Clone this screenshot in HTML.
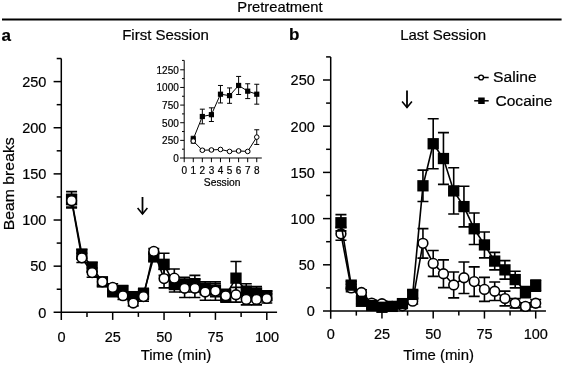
<!DOCTYPE html>
<html><head><meta charset="utf-8"><title>Pretreatment</title>
<style>
html,body{margin:0;padding:0;background:#fff;}
body{width:563px;height:365px;overflow:hidden;}
svg{display:block;will-change:transform;font-family:"Liberation Sans", sans-serif;fill:#000;}
text{stroke:#000;stroke-width:0.2px;}
</style></head><body>
<svg width="563" height="365" viewBox="0 0 563 365">
<rect width="563" height="365" fill="#fff"/>
<text x="237.3" y="11.6" font-size="14.3" textLength="85.3" lengthAdjust="spacingAndGlyphs">Pretreatment</text>
<path d="M2 19.5H561.6" stroke="#000" stroke-width="2.1"/>
<text x="1.5" y="40.5" font-size="17" font-weight="bold">a</text>
<text x="288.9" y="40.2" font-size="17" font-weight="bold">b</text>
<text x="122.2" y="39.8" font-size="15">First Session</text>
<text x="400.2" y="40.1" font-size="15">Last Session</text>
<text transform="translate(13.9 230.3) rotate(-90)" x="0" y="0" font-size="15.5" textLength="93" lengthAdjust="spacingAndGlyphs">Beam breaks</text>
<path d="M61.3 58.53V320" stroke="#000" stroke-width="1.5"/>
<path d="M53.6 312.3H277.07" stroke="#000" stroke-width="1.5"/>
<path d="M56.7 289.23H61.3" stroke="#000" stroke-width="1.5"/>
<path d="M53.6 266.16H61.3" stroke="#000" stroke-width="1.5"/>
<path d="M56.7 243.09H61.3" stroke="#000" stroke-width="1.5"/>
<path d="M53.6 220.02H61.3" stroke="#000" stroke-width="1.5"/>
<path d="M56.7 196.95H61.3" stroke="#000" stroke-width="1.5"/>
<path d="M53.6 173.88H61.3" stroke="#000" stroke-width="1.5"/>
<path d="M56.7 150.81H61.3" stroke="#000" stroke-width="1.5"/>
<path d="M53.6 127.74H61.3" stroke="#000" stroke-width="1.5"/>
<path d="M56.7 104.67H61.3" stroke="#000" stroke-width="1.5"/>
<path d="M53.6 81.6H61.3" stroke="#000" stroke-width="1.5"/>
<path d="M56.7 58.53H61.3" stroke="#000" stroke-width="1.5"/>
<path d="M86.99 312.3V316.9" stroke="#000" stroke-width="1.5"/>
<path d="M112.68 312.3V319.9" stroke="#000" stroke-width="1.5"/>
<path d="M138.36 312.3V316.9" stroke="#000" stroke-width="1.5"/>
<path d="M164.05 312.3V319.9" stroke="#000" stroke-width="1.5"/>
<path d="M189.74 312.3V316.9" stroke="#000" stroke-width="1.5"/>
<path d="M215.43 312.3V319.9" stroke="#000" stroke-width="1.5"/>
<path d="M241.11 312.3V316.9" stroke="#000" stroke-width="1.5"/>
<path d="M266.8 312.3V319.9" stroke="#000" stroke-width="1.5"/>
<path d="M330.7 56.9V318.7" stroke="#000" stroke-width="1.5"/>
<path d="M323 311H545.95" stroke="#000" stroke-width="1.5"/>
<path d="M326.1 287.9H330.7" stroke="#000" stroke-width="1.5"/>
<path d="M323 264.8H330.7" stroke="#000" stroke-width="1.5"/>
<path d="M326.1 241.7H330.7" stroke="#000" stroke-width="1.5"/>
<path d="M323 218.6H330.7" stroke="#000" stroke-width="1.5"/>
<path d="M326.1 195.5H330.7" stroke="#000" stroke-width="1.5"/>
<path d="M323 172.4H330.7" stroke="#000" stroke-width="1.5"/>
<path d="M326.1 149.3H330.7" stroke="#000" stroke-width="1.5"/>
<path d="M323 126.2H330.7" stroke="#000" stroke-width="1.5"/>
<path d="M326.1 103.1H330.7" stroke="#000" stroke-width="1.5"/>
<path d="M323 80H330.7" stroke="#000" stroke-width="1.5"/>
<path d="M326.1 56.9H330.7" stroke="#000" stroke-width="1.5"/>
<path d="M356.32 311V315.6" stroke="#000" stroke-width="1.5"/>
<path d="M381.95 311V318.6" stroke="#000" stroke-width="1.5"/>
<path d="M407.57 311V315.6" stroke="#000" stroke-width="1.5"/>
<path d="M433.2 311V318.6" stroke="#000" stroke-width="1.5"/>
<path d="M458.82 311V315.6" stroke="#000" stroke-width="1.5"/>
<path d="M484.45 311V318.6" stroke="#000" stroke-width="1.5"/>
<path d="M510.07 311V315.6" stroke="#000" stroke-width="1.5"/>
<path d="M535.7 311V318.6" stroke="#000" stroke-width="1.5"/>
<text x="46.4" y="317.6" font-size="14.5" text-anchor="end">0</text>
<text x="314.8" y="316.3" font-size="14.5" text-anchor="end">0</text>
<text x="46.4" y="271.46" font-size="14.5" text-anchor="end">50</text>
<text x="314.8" y="270.1" font-size="14.5" text-anchor="end">50</text>
<text x="46.4" y="225.32" font-size="14.5" text-anchor="end">100</text>
<text x="314.8" y="223.9" font-size="14.5" text-anchor="end">100</text>
<text x="46.4" y="179.18" font-size="14.5" text-anchor="end">150</text>
<text x="314.8" y="177.7" font-size="14.5" text-anchor="end">150</text>
<text x="46.4" y="133.04" font-size="14.5" text-anchor="end">200</text>
<text x="314.8" y="131.5" font-size="14.5" text-anchor="end">200</text>
<text x="46.4" y="86.9" font-size="14.5" text-anchor="end">250</text>
<text x="314.8" y="85.3" font-size="14.5" text-anchor="end">250</text>
<text x="61.5" y="341.7" font-size="14.5" text-anchor="middle">0</text>
<text x="330.8" y="339.0" font-size="14.5" text-anchor="middle">0</text>
<text x="112.88" y="341.7" font-size="14.5" text-anchor="middle">25</text>
<text x="382.05" y="339.0" font-size="14.5" text-anchor="middle">25</text>
<text x="164.25" y="341.7" font-size="14.5" text-anchor="middle">50</text>
<text x="433.3" y="339.0" font-size="14.5" text-anchor="middle">50</text>
<text x="215.62" y="341.7" font-size="14.5" text-anchor="middle">75</text>
<text x="484.55" y="339.0" font-size="14.5" text-anchor="middle">75</text>
<text x="267" y="341.7" font-size="14.5" text-anchor="middle">100</text>
<text x="535.8" y="339.0" font-size="14.5" text-anchor="middle">100</text>
<text x="140.7" y="360.3" font-size="15" textLength="70.6" lengthAdjust="spacingAndGlyphs">Time (min)</text>
<text x="403.3" y="360.3" font-size="15" textLength="70.6" lengthAdjust="spacingAndGlyphs">Time (min)</text>
<path d="M71.58 191.6V207.84M66.08 191.6H77.08M66.08 207.84H77.08" stroke="#000" stroke-width="1.6" fill="none"/>
<path d="M81.85 249.55V258.78M76.35 249.55H87.35M76.35 258.78H87.35" stroke="#000" stroke-width="1.6" fill="none"/>
<path d="M92.12 262.47V271.7M86.62 262.47H97.62M86.62 271.7H97.62" stroke="#000" stroke-width="1.6" fill="none"/>
<path d="M102.4 277.23V286.46M96.9 277.23H107.9M96.9 286.46H107.9" stroke="#000" stroke-width="1.6" fill="none"/>
<path d="M112.68 285.54V296.61M107.18 285.54H118.18M107.18 296.61H118.18" stroke="#000" stroke-width="1.6" fill="none"/>
<path d="M122.95 285.54V296.61M117.45 285.54H128.45M117.45 296.61H128.45" stroke="#000" stroke-width="1.6" fill="none"/>
<path d="M133.23 292V301.23M127.73 292H138.73M127.73 301.23H138.73" stroke="#000" stroke-width="1.6" fill="none"/>
<path d="M143.5 288.31V299.38M138 288.31H149M138 299.38H149" stroke="#000" stroke-width="1.6" fill="none"/>
<path d="M153.78 253.24V260.62M148.28 253.24H159.28M148.28 260.62H159.28" stroke="#000" stroke-width="1.6" fill="none"/>
<path d="M164.05 253.24V275.39M158.55 253.24H169.55M158.55 275.39H169.55" stroke="#000" stroke-width="1.6" fill="none"/>
<path d="M174.32 277.23V292M168.82 277.23H179.82M168.82 292H179.82" stroke="#000" stroke-width="1.6" fill="none"/>
<path d="M184.6 277.23V292M179.1 277.23H190.1M179.1 292H190.1" stroke="#000" stroke-width="1.6" fill="none"/>
<path d="M194.88 275.39V292M189.38 275.39H200.38M189.38 292H200.38" stroke="#000" stroke-width="1.6" fill="none"/>
<path d="M205.15 281.85V294.77M199.65 281.85H210.65M199.65 294.77H210.65" stroke="#000" stroke-width="1.6" fill="none"/>
<path d="M215.43 283.69V296.61M209.93 283.69H220.93M209.93 296.61H220.93" stroke="#000" stroke-width="1.6" fill="none"/>
<path d="M225.7 290.15V301.23M220.2 290.15H231.2M220.2 301.23H231.2" stroke="#000" stroke-width="1.6" fill="none"/>
<path d="M235.98 261.55V294.77M230.48 261.55H241.48M230.48 294.77H241.48" stroke="#000" stroke-width="1.6" fill="none"/>
<path d="M246.25 283.69V298.46M240.75 283.69H251.75M240.75 298.46H251.75" stroke="#000" stroke-width="1.6" fill="none"/>
<path d="M256.53 286.46V299.38M251.03 286.46H262.03M251.03 299.38H262.03" stroke="#000" stroke-width="1.6" fill="none"/>
<path d="M266.8 291.08V300.3M261.3 291.08H272.3M261.3 300.3H272.3" stroke="#000" stroke-width="1.6" fill="none"/>
<polyline points="71.58,199.72 81.85,254.16 92.12,267.08 102.4,281.85 112.68,291.08 122.95,291.08 133.23,296.61 143.5,293.84 153.78,256.93 164.05,264.31 174.32,284.62 184.6,284.62 194.88,283.69 205.15,288.31 215.43,290.15 225.7,295.69 235.98,278.16 246.25,291.08 256.53,292.92 266.8,295.69" fill="none" stroke="#000" stroke-width="1.6"/>
<rect x="65.92" y="194.07" width="11.3" height="11.3" fill="#000"/>
<rect x="76.2" y="248.51" width="11.3" height="11.3" fill="#000"/>
<rect x="86.47" y="261.43" width="11.3" height="11.3" fill="#000"/>
<rect x="96.75" y="276.2" width="11.3" height="11.3" fill="#000"/>
<rect x="107.03" y="285.43" width="11.3" height="11.3" fill="#000"/>
<rect x="117.3" y="285.43" width="11.3" height="11.3" fill="#000"/>
<rect x="127.58" y="290.96" width="11.3" height="11.3" fill="#000"/>
<rect x="137.85" y="288.19" width="11.3" height="11.3" fill="#000"/>
<rect x="148.12" y="251.28" width="11.3" height="11.3" fill="#000"/>
<rect x="158.4" y="258.66" width="11.3" height="11.3" fill="#000"/>
<rect x="168.67" y="278.97" width="11.3" height="11.3" fill="#000"/>
<rect x="178.95" y="278.97" width="11.3" height="11.3" fill="#000"/>
<rect x="189.22" y="278.04" width="11.3" height="11.3" fill="#000"/>
<rect x="199.5" y="282.66" width="11.3" height="11.3" fill="#000"/>
<rect x="209.78" y="284.5" width="11.3" height="11.3" fill="#000"/>
<rect x="220.05" y="290.04" width="11.3" height="11.3" fill="#000"/>
<rect x="230.33" y="272.51" width="11.3" height="11.3" fill="#000"/>
<rect x="240.6" y="285.43" width="11.3" height="11.3" fill="#000"/>
<rect x="250.88" y="287.27" width="11.3" height="11.3" fill="#000"/>
<rect x="261.15" y="290.04" width="11.3" height="11.3" fill="#000"/>
<path d="M71.58 194.18V207.1M66.08 194.18H77.08M66.08 207.1H77.08" stroke="#000" stroke-width="1.6" fill="none"/>
<path d="M81.85 253.24V262.47M76.35 253.24H87.35M76.35 262.47H87.35" stroke="#000" stroke-width="1.6" fill="none"/>
<path d="M92.12 268.01V277.23M86.62 268.01H97.62M86.62 277.23H97.62" stroke="#000" stroke-width="1.6" fill="none"/>
<path d="M102.4 278.16V285.54M96.9 278.16H107.9M96.9 285.54H107.9" stroke="#000" stroke-width="1.6" fill="none"/>
<path d="M112.68 283.69V291.08M107.18 283.69H118.18M107.18 291.08H118.18" stroke="#000" stroke-width="1.6" fill="none"/>
<path d="M122.95 292V299.38M117.45 292H128.45M117.45 299.38H128.45" stroke="#000" stroke-width="1.6" fill="none"/>
<path d="M133.23 300.3V305.84M127.73 300.3H138.73M127.73 305.84H138.73" stroke="#000" stroke-width="1.6" fill="none"/>
<path d="M143.5 292V301.23M138 292H149M138 301.23H149" stroke="#000" stroke-width="1.6" fill="none"/>
<path d="M153.78 248.63V254.16M148.28 248.63H159.28M148.28 254.16H159.28" stroke="#000" stroke-width="1.6" fill="none"/>
<path d="M164.05 269.39V287.85M158.55 269.39H169.55M158.55 287.85H169.55" stroke="#000" stroke-width="1.6" fill="none"/>
<path d="M174.32 268.93V287.38M168.82 268.93H179.82M168.82 287.38H179.82" stroke="#000" stroke-width="1.6" fill="none"/>
<path d="M184.6 279.08V297.54M179.1 279.08H190.1M179.1 297.54H190.1" stroke="#000" stroke-width="1.6" fill="none"/>
<path d="M194.88 279.08V297.54M189.38 279.08H200.38M189.38 297.54H200.38" stroke="#000" stroke-width="1.6" fill="none"/>
<path d="M205.15 283.69V300.3M199.65 283.69H210.65M199.65 300.3H210.65" stroke="#000" stroke-width="1.6" fill="none"/>
<path d="M215.43 281.85V300.3M209.93 281.85H220.93M209.93 300.3H220.93" stroke="#000" stroke-width="1.6" fill="none"/>
<path d="M225.7 289.23V302.15M220.2 289.23H231.2M220.2 302.15H231.2" stroke="#000" stroke-width="1.6" fill="none"/>
<path d="M235.98 287.38V302.15M230.48 287.38H241.48M230.48 302.15H241.48" stroke="#000" stroke-width="1.6" fill="none"/>
<path d="M246.25 293.84V304.92M240.75 293.84H251.75M240.75 304.92H251.75" stroke="#000" stroke-width="1.6" fill="none"/>
<path d="M256.53 293.84V304.92M251.03 293.84H262.03M251.03 304.92H262.03" stroke="#000" stroke-width="1.6" fill="none"/>
<path d="M266.8 293.84V303.07M261.3 293.84H272.3M261.3 303.07H272.3" stroke="#000" stroke-width="1.6" fill="none"/>
<polyline points="71.58,200.64 81.85,257.85 92.12,272.62 102.4,281.85 112.68,287.38 122.95,295.69 133.23,303.07 143.5,296.61 153.78,251.4 164.05,278.62 174.32,278.16 184.6,288.31 194.88,288.31 205.15,292 215.43,291.08 225.7,295.69 235.98,294.77 246.25,299.38 256.53,299.38 266.8,298.46" fill="none" stroke="#000" stroke-width="1.6"/>
<circle cx="71.58" cy="200.64" r="4.85" fill="#fff" stroke="#000" stroke-width="1.6"/>
<circle cx="81.85" cy="257.85" r="4.85" fill="#fff" stroke="#000" stroke-width="1.6"/>
<circle cx="92.12" cy="272.62" r="4.85" fill="#fff" stroke="#000" stroke-width="1.6"/>
<circle cx="102.4" cy="281.85" r="4.85" fill="#fff" stroke="#000" stroke-width="1.6"/>
<circle cx="112.68" cy="287.38" r="4.85" fill="#fff" stroke="#000" stroke-width="1.6"/>
<circle cx="122.95" cy="295.69" r="4.85" fill="#fff" stroke="#000" stroke-width="1.6"/>
<circle cx="133.23" cy="303.07" r="4.85" fill="#fff" stroke="#000" stroke-width="1.6"/>
<circle cx="143.5" cy="296.61" r="4.85" fill="#fff" stroke="#000" stroke-width="1.6"/>
<circle cx="153.78" cy="251.4" r="4.85" fill="#fff" stroke="#000" stroke-width="1.6"/>
<circle cx="164.05" cy="278.62" r="4.85" fill="#fff" stroke="#000" stroke-width="1.6"/>
<circle cx="174.32" cy="278.16" r="4.85" fill="#fff" stroke="#000" stroke-width="1.6"/>
<circle cx="184.6" cy="288.31" r="4.85" fill="#fff" stroke="#000" stroke-width="1.6"/>
<circle cx="194.88" cy="288.31" r="4.85" fill="#fff" stroke="#000" stroke-width="1.6"/>
<circle cx="205.15" cy="292" r="4.85" fill="#fff" stroke="#000" stroke-width="1.6"/>
<circle cx="215.43" cy="291.08" r="4.85" fill="#fff" stroke="#000" stroke-width="1.6"/>
<circle cx="225.7" cy="295.69" r="4.85" fill="#fff" stroke="#000" stroke-width="1.6"/>
<circle cx="235.98" cy="294.77" r="4.85" fill="#fff" stroke="#000" stroke-width="1.6"/>
<circle cx="246.25" cy="299.38" r="4.85" fill="#fff" stroke="#000" stroke-width="1.6"/>
<circle cx="256.53" cy="299.38" r="4.85" fill="#fff" stroke="#000" stroke-width="1.6"/>
<circle cx="266.8" cy="298.46" r="4.85" fill="#fff" stroke="#000" stroke-width="1.6"/>
<path d="M340.95 227.38V240.31M335.45 227.38H346.45M335.45 240.31H346.45" stroke="#000" stroke-width="1.6" fill="none"/>
<path d="M351.2 284.2V291.6M345.7 284.2H356.7M345.7 291.6H356.7" stroke="#000" stroke-width="1.6" fill="none"/>
<path d="M361.45 289.75V295.29M355.95 289.75H366.95M355.95 295.29H366.95" stroke="#000" stroke-width="1.6" fill="none"/>
<path d="M371.7 300.28V305.83M366.2 300.28H377.2M366.2 305.83H377.2" stroke="#000" stroke-width="1.6" fill="none"/>
<path d="M381.95 300.93V306.47M376.45 300.93H387.45M376.45 306.47H387.45" stroke="#000" stroke-width="1.6" fill="none"/>
<path d="M392.2 304.53V308.23M386.7 304.53H397.7M386.7 308.23H397.7" stroke="#000" stroke-width="1.6" fill="none"/>
<path d="M402.45 303.98V307.67M396.95 303.98H407.95M396.95 307.67H407.95" stroke="#000" stroke-width="1.6" fill="none"/>
<path d="M412.7 298.43V303.98M407.2 298.43H418.2M407.2 303.98H418.2" stroke="#000" stroke-width="1.6" fill="none"/>
<path d="M422.95 228.58V258.15M417.45 228.58H428.45M417.45 258.15H428.45" stroke="#000" stroke-width="1.6" fill="none"/>
<path d="M433.2 250.48V276.35M427.7 250.48H438.7M427.7 276.35H438.7" stroke="#000" stroke-width="1.6" fill="none"/>
<path d="M443.45 259.9V287.62M437.95 259.9H448.95M437.95 287.62H448.95" stroke="#000" stroke-width="1.6" fill="none"/>
<path d="M453.7 272.01V297.88M448.2 272.01H459.2M448.2 297.88H459.2" stroke="#000" stroke-width="1.6" fill="none"/>
<path d="M463.95 262.03V293.44M458.45 262.03H469.45M458.45 293.44H469.45" stroke="#000" stroke-width="1.6" fill="none"/>
<path d="M474.2 266.83V296.4M468.7 266.83H479.7M468.7 296.4H479.7" stroke="#000" stroke-width="1.6" fill="none"/>
<path d="M484.45 277.37V301.39M478.95 277.37H489.95M478.95 301.39H489.95" stroke="#000" stroke-width="1.6" fill="none"/>
<path d="M494.7 281.99V300.47M489.2 281.99H500.2M489.2 300.47H500.2" stroke="#000" stroke-width="1.6" fill="none"/>
<path d="M504.95 291.13V305.92M499.45 291.13H510.45M499.45 305.92H510.45" stroke="#000" stroke-width="1.6" fill="none"/>
<path d="M515.2 298.62V307.86M509.7 298.62H520.7M509.7 307.86H520.7" stroke="#000" stroke-width="1.6" fill="none"/>
<path d="M525.45 302.68V310.08M519.95 302.68H530.95M519.95 310.08H530.95" stroke="#000" stroke-width="1.6" fill="none"/>
<path d="M535.7 299.54V306.93M530.2 299.54H541.2M530.2 306.93H541.2" stroke="#000" stroke-width="1.6" fill="none"/>
<polyline points="340.95,233.85 351.2,287.9 361.45,292.52 371.7,303.05 381.95,303.7 392.2,306.38 402.45,305.83 412.7,301.21 422.95,243.36 433.2,263.41 443.45,273.76 453.7,284.94 463.95,277.74 474.2,281.62 484.45,289.38 494.7,291.23 504.95,298.53 515.2,303.24 525.45,306.38 535.7,303.24" fill="none" stroke="#000" stroke-width="1.6"/>
<circle cx="340.95" cy="233.85" r="4.85" fill="#fff" stroke="#000" stroke-width="1.6"/>
<circle cx="351.2" cy="287.9" r="4.85" fill="#fff" stroke="#000" stroke-width="1.6"/>
<circle cx="361.45" cy="292.52" r="4.85" fill="#fff" stroke="#000" stroke-width="1.6"/>
<circle cx="371.7" cy="303.05" r="4.85" fill="#fff" stroke="#000" stroke-width="1.6"/>
<circle cx="381.95" cy="303.7" r="4.85" fill="#fff" stroke="#000" stroke-width="1.6"/>
<circle cx="392.2" cy="306.38" r="4.85" fill="#fff" stroke="#000" stroke-width="1.6"/>
<circle cx="402.45" cy="305.83" r="4.85" fill="#fff" stroke="#000" stroke-width="1.6"/>
<circle cx="412.7" cy="301.21" r="4.85" fill="#fff" stroke="#000" stroke-width="1.6"/>
<circle cx="422.95" cy="243.36" r="4.85" fill="#fff" stroke="#000" stroke-width="1.6"/>
<circle cx="433.2" cy="263.41" r="4.85" fill="#fff" stroke="#000" stroke-width="1.6"/>
<circle cx="443.45" cy="273.76" r="4.85" fill="#fff" stroke="#000" stroke-width="1.6"/>
<circle cx="453.7" cy="284.94" r="4.85" fill="#fff" stroke="#000" stroke-width="1.6"/>
<circle cx="463.95" cy="277.74" r="4.85" fill="#fff" stroke="#000" stroke-width="1.6"/>
<circle cx="474.2" cy="281.62" r="4.85" fill="#fff" stroke="#000" stroke-width="1.6"/>
<circle cx="484.45" cy="289.38" r="4.85" fill="#fff" stroke="#000" stroke-width="1.6"/>
<circle cx="494.7" cy="291.23" r="4.85" fill="#fff" stroke="#000" stroke-width="1.6"/>
<circle cx="504.95" cy="298.53" r="4.85" fill="#fff" stroke="#000" stroke-width="1.6"/>
<circle cx="515.2" cy="303.24" r="4.85" fill="#fff" stroke="#000" stroke-width="1.6"/>
<circle cx="525.45" cy="306.38" r="4.85" fill="#fff" stroke="#000" stroke-width="1.6"/>
<circle cx="535.7" cy="303.24" r="4.85" fill="#fff" stroke="#000" stroke-width="1.6"/>
<path d="M340.95 214.63V230.89M335.45 214.63H346.45M335.45 230.89H346.45" stroke="#000" stroke-width="1.6" fill="none"/>
<path d="M351.2 281.43V288.82M345.7 281.43H356.7M345.7 288.82H356.7" stroke="#000" stroke-width="1.6" fill="none"/>
<path d="M361.45 298.53V304.07M355.95 298.53H366.95M355.95 304.07H366.95" stroke="#000" stroke-width="1.6" fill="none"/>
<path d="M371.7 302.68V308.23M366.2 302.68H377.2M366.2 308.23H377.2" stroke="#000" stroke-width="1.6" fill="none"/>
<path d="M381.95 304.53V310.08M376.45 304.53H387.45M376.45 310.08H387.45" stroke="#000" stroke-width="1.6" fill="none"/>
<path d="M392.2 303.61V309.15M386.7 303.61H397.7M386.7 309.15H397.7" stroke="#000" stroke-width="1.6" fill="none"/>
<path d="M402.45 300.84V306.38M396.95 300.84H407.95M396.95 306.38H407.95" stroke="#000" stroke-width="1.6" fill="none"/>
<path d="M412.7 290.67V298.06M407.2 290.67H418.2M407.2 298.06H418.2" stroke="#000" stroke-width="1.6" fill="none"/>
<path d="M422.95 170.09V201.51M417.45 170.09H428.45M417.45 201.51H428.45" stroke="#000" stroke-width="1.6" fill="none"/>
<path d="M433.2 118.81V168.7M427.7 118.81H438.7M427.7 168.7H438.7" stroke="#000" stroke-width="1.6" fill="none"/>
<path d="M443.45 132.67V184.41M437.95 132.67H448.95M437.95 184.41H448.95" stroke="#000" stroke-width="1.6" fill="none"/>
<path d="M453.7 167.78V213.98M448.2 167.78H459.2M448.2 213.98H459.2" stroke="#000" stroke-width="1.6" fill="none"/>
<path d="M463.95 186.26V226.92M458.45 186.26H469.45M458.45 226.92H469.45" stroke="#000" stroke-width="1.6" fill="none"/>
<path d="M474.2 213.06V244.47M468.7 213.06H479.7M468.7 244.47H479.7" stroke="#000" stroke-width="1.6" fill="none"/>
<path d="M484.45 232V257.87M478.95 232H489.95M478.95 257.87H489.95" stroke="#000" stroke-width="1.6" fill="none"/>
<path d="M494.7 252.33V269.88M489.2 252.33H500.2M489.2 269.88H500.2" stroke="#000" stroke-width="1.6" fill="none"/>
<path d="M504.95 260.64V279.12M499.45 260.64H510.45M499.45 279.12H510.45" stroke="#000" stroke-width="1.6" fill="none"/>
<path d="M515.2 271.27V287.9M509.7 271.27H520.7M509.7 287.9H520.7" stroke="#000" stroke-width="1.6" fill="none"/>
<path d="M525.45 286.51V297.6M519.95 286.51H530.95M519.95 297.6H530.95" stroke="#000" stroke-width="1.6" fill="none"/>
<path d="M535.7 280.05V291.13M530.2 280.05H541.2M530.2 291.13H541.2" stroke="#000" stroke-width="1.6" fill="none"/>
<polyline points="340.95,222.76 351.2,285.13 361.45,301.3 371.7,305.46 381.95,307.3 392.2,306.38 402.45,303.61 412.7,294.37 422.95,185.8 433.2,143.76 443.45,158.54 453.7,190.88 463.95,206.59 474.2,228.76 484.45,244.93 494.7,261.1 504.95,269.88 515.2,279.58 525.45,292.06 535.7,285.59" fill="none" stroke="#000" stroke-width="1.6"/>
<rect x="335.3" y="217.11" width="11.3" height="11.3" fill="#000"/>
<rect x="345.55" y="279.48" width="11.3" height="11.3" fill="#000"/>
<rect x="355.8" y="295.65" width="11.3" height="11.3" fill="#000"/>
<rect x="366.05" y="299.81" width="11.3" height="11.3" fill="#000"/>
<rect x="376.3" y="301.65" width="11.3" height="11.3" fill="#000"/>
<rect x="386.55" y="300.73" width="11.3" height="11.3" fill="#000"/>
<rect x="396.8" y="297.96" width="11.3" height="11.3" fill="#000"/>
<rect x="407.05" y="288.72" width="11.3" height="11.3" fill="#000"/>
<rect x="417.3" y="180.15" width="11.3" height="11.3" fill="#000"/>
<rect x="427.55" y="138.11" width="11.3" height="11.3" fill="#000"/>
<rect x="437.8" y="152.89" width="11.3" height="11.3" fill="#000"/>
<rect x="448.05" y="185.23" width="11.3" height="11.3" fill="#000"/>
<rect x="458.3" y="200.94" width="11.3" height="11.3" fill="#000"/>
<rect x="468.55" y="223.11" width="11.3" height="11.3" fill="#000"/>
<rect x="478.8" y="239.28" width="11.3" height="11.3" fill="#000"/>
<rect x="489.05" y="255.45" width="11.3" height="11.3" fill="#000"/>
<rect x="499.3" y="264.23" width="11.3" height="11.3" fill="#000"/>
<rect x="509.55" y="273.93" width="11.3" height="11.3" fill="#000"/>
<rect x="519.8" y="286.41" width="11.3" height="11.3" fill="#000"/>
<rect x="530.05" y="279.94" width="11.3" height="11.3" fill="#000"/>
<path d="M142.5 197V214" stroke="#000" stroke-width="1.8" fill="none"/><path d="M137.6 208.1L142.5 214L147.4 208.1" stroke="#000" stroke-width="1.6" fill="none" stroke-linejoin="miter"/>
<path d="M407 90.5V107.5" stroke="#000" stroke-width="1.8" fill="none"/><path d="M402.1 101.6L407 107.5L411.9 101.6" stroke="#000" stroke-width="1.6" fill="none" stroke-linejoin="miter"/>
<path d="M474.2 77.5H488.7" stroke="#000" stroke-width="1.5"/><circle cx="481.1" cy="77.5" r="2.4" fill="#fff" stroke="#000" stroke-width="1.4"/>
<text x="493.1" y="82.4" font-size="15.4" textLength="43.6" lengthAdjust="spacingAndGlyphs">Saline</text>
<path d="M474.2 100.8H488.7" stroke="#000" stroke-width="1.5"/><rect x="478.2" y="97.5" width="6.5" height="6.5" fill="#000"/>
<text x="495.5" y="105.6" font-size="15.4" textLength="57" lengthAdjust="spacingAndGlyphs">Cocaine</text>
<path d="M184.2 60.4V162.2" stroke="#000" stroke-width="1"/>
<path d="M180 158H261.8" stroke="#000" stroke-width="1"/>
<path d="M182 60.4H184.2" stroke="#000" stroke-width="1"/>
<path d="M182 149.18H184.2" stroke="#000" stroke-width="1"/>
<path d="M180.2 140.36H184.2" stroke="#000" stroke-width="1"/>
<path d="M182 131.54H184.2" stroke="#000" stroke-width="1"/>
<path d="M180.2 122.72H184.2" stroke="#000" stroke-width="1"/>
<path d="M182 113.9H184.2" stroke="#000" stroke-width="1"/>
<path d="M180.2 105.08H184.2" stroke="#000" stroke-width="1"/>
<path d="M182 96.26H184.2" stroke="#000" stroke-width="1"/>
<path d="M180.2 87.44H184.2" stroke="#000" stroke-width="1"/>
<path d="M182 78.62H184.2" stroke="#000" stroke-width="1"/>
<path d="M180.2 69.8H184.2" stroke="#000" stroke-width="1"/>
<path d="M193.27 158V162.2" stroke="#000" stroke-width="1"/>
<path d="M202.34 158V162.2" stroke="#000" stroke-width="1"/>
<path d="M211.41 158V162.2" stroke="#000" stroke-width="1"/>
<path d="M220.48 158V162.2" stroke="#000" stroke-width="1"/>
<path d="M229.55 158V162.2" stroke="#000" stroke-width="1"/>
<path d="M238.62 158V162.2" stroke="#000" stroke-width="1"/>
<path d="M247.69 158V162.2" stroke="#000" stroke-width="1"/>
<path d="M256.76 158V162.2" stroke="#000" stroke-width="1"/>
<text x="178.8" y="162" font-size="10" text-anchor="end">0</text>
<text x="178.8" y="144.36" font-size="10" text-anchor="end">250</text>
<text x="178.8" y="126.72" font-size="10" text-anchor="end">500</text>
<text x="178.8" y="109.08" font-size="10" text-anchor="end">750</text>
<text x="178.8" y="91.44" font-size="10" text-anchor="end">1000</text>
<text x="178.8" y="73.8" font-size="10" text-anchor="end">1250</text>
<text x="184.2" y="173.5" font-size="10" text-anchor="middle">0</text>
<text x="193.27" y="173.5" font-size="10" text-anchor="middle">1</text>
<text x="202.34" y="173.5" font-size="10" text-anchor="middle">2</text>
<text x="211.41" y="173.5" font-size="10" text-anchor="middle">3</text>
<text x="220.48" y="173.5" font-size="10" text-anchor="middle">4</text>
<text x="229.55" y="173.5" font-size="10" text-anchor="middle">5</text>
<text x="238.62" y="173.5" font-size="10" text-anchor="middle">6</text>
<text x="247.69" y="173.5" font-size="10" text-anchor="middle">7</text>
<text x="256.76" y="173.5" font-size="10" text-anchor="middle">8</text>
<text x="203.8" y="185.5" font-size="10" textLength="36.6" lengthAdjust="spacingAndGlyphs">Session</text>
<path d="M193.27 138.95V143.18M190.77 138.95H195.77M190.77 143.18H195.77" stroke="#000" stroke-width="1" fill="none"/>
<path d="M202.34 149.18V151.3M199.84 149.18H204.84M199.84 151.3H204.84" stroke="#000" stroke-width="1" fill="none"/>
<path d="M211.41 148.9V151.01M208.91 148.9H213.91M208.91 151.01H213.91" stroke="#000" stroke-width="1" fill="none"/>
<path d="M220.48 148.4V150.52M217.98 148.4H222.98M217.98 150.52H222.98" stroke="#000" stroke-width="1" fill="none"/>
<path d="M229.55 150.59V152.28M227.05 150.59H232.05M227.05 152.28H232.05" stroke="#000" stroke-width="1" fill="none"/>
<path d="M238.62 150.1V151.79M236.12 150.1H241.12M236.12 151.79H241.12" stroke="#000" stroke-width="1" fill="none"/>
<path d="M247.69 150.59V152.28M245.19 150.59H250.19M245.19 152.28H250.19" stroke="#000" stroke-width="1" fill="none"/>
<path d="M256.76 129.78V144.45M254.26 129.78H259.26M254.26 144.45H259.26" stroke="#000" stroke-width="1" fill="none"/>
<path d="M193.27 136.27V141.91M190.77 136.27H195.77M190.77 141.91H195.77" stroke="#000" stroke-width="1" fill="none"/>
<path d="M202.34 109.17V123.85M199.84 109.17H204.84M199.84 123.85H204.84" stroke="#000" stroke-width="1" fill="none"/>
<path d="M211.41 107.83V121.52M208.91 107.83H213.91M208.91 121.52H213.91" stroke="#000" stroke-width="1" fill="none"/>
<path d="M220.48 85.46V102.96M217.98 85.46H222.98M217.98 102.96H222.98" stroke="#000" stroke-width="1" fill="none"/>
<path d="M229.55 87.93V103.32M227.05 87.93H232.05M227.05 103.32H232.05" stroke="#000" stroke-width="1" fill="none"/>
<path d="M238.62 76.43V94.5M236.12 76.43H241.12M236.12 94.5H241.12" stroke="#000" stroke-width="1" fill="none"/>
<path d="M247.69 83.77V98.59M245.19 83.77H250.19M245.19 98.59H250.19" stroke="#000" stroke-width="1" fill="none"/>
<path d="M256.76 84.26V104.16M254.26 84.26H259.26M254.26 104.16H259.26" stroke="#000" stroke-width="1" fill="none"/>
<polyline points="193.27,141.07 202.34,150.24 211.41,149.96 220.48,149.46 229.55,151.44 238.62,150.94 247.69,151.44 256.76,137.11" fill="none" stroke="#000" stroke-width="1"/>
<polyline points="193.27,139.09 202.34,116.51 211.41,114.68 220.48,94.21 229.55,95.62 238.62,85.46 247.69,91.18 256.76,94.21" fill="none" stroke="#000" stroke-width="1"/>
<rect x="190.67" y="136.49" width="5.2" height="5.2" fill="#000"/>
<rect x="199.74" y="113.91" width="5.2" height="5.2" fill="#000"/>
<rect x="208.81" y="112.08" width="5.2" height="5.2" fill="#000"/>
<rect x="217.88" y="91.61" width="5.2" height="5.2" fill="#000"/>
<rect x="226.95" y="93.02" width="5.2" height="5.2" fill="#000"/>
<rect x="236.02" y="82.86" width="5.2" height="5.2" fill="#000"/>
<rect x="245.09" y="88.58" width="5.2" height="5.2" fill="#000"/>
<rect x="254.16" y="91.61" width="5.2" height="5.2" fill="#000"/>
<circle cx="193.27" cy="141.07" r="2.3" fill="#fff" stroke="#000" stroke-width="1"/>
<circle cx="202.34" cy="150.24" r="2.3" fill="#fff" stroke="#000" stroke-width="1"/>
<circle cx="211.41" cy="149.96" r="2.3" fill="#fff" stroke="#000" stroke-width="1"/>
<circle cx="220.48" cy="149.46" r="2.3" fill="#fff" stroke="#000" stroke-width="1"/>
<circle cx="229.55" cy="151.44" r="2.3" fill="#fff" stroke="#000" stroke-width="1"/>
<circle cx="238.62" cy="150.94" r="2.3" fill="#fff" stroke="#000" stroke-width="1"/>
<circle cx="247.69" cy="151.44" r="2.3" fill="#fff" stroke="#000" stroke-width="1"/>
<circle cx="256.76" cy="137.11" r="2.3" fill="#fff" stroke="#000" stroke-width="1"/>
</svg>
</body></html>
